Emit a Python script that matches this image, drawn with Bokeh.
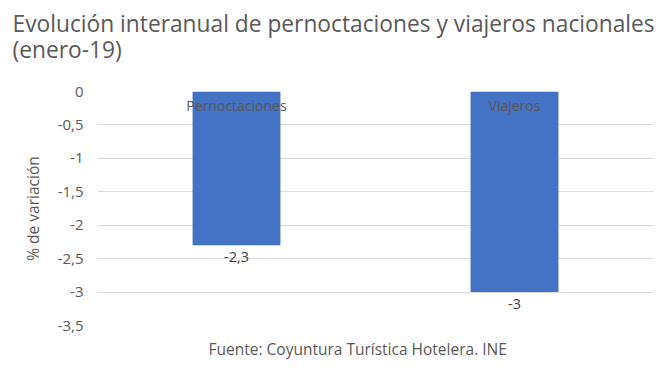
from bokeh.plotting import figure
from bokeh.models import FactorRange, Range1d, FixedTicker, ColumnDataSource, Title
from bokeh.core.properties import value
from bokeh.embed import file_html
from bokeh.resources import INLINE

categories = ["Pernoctaciones", "Viajeros"]
values = [-2.3, -3.0]
value_labels = ["-2,3", "-3"]
y_ticks = [0, -0.5, -1, -1.5, -2, -2.5, -3, -3.5]
y_tick_labels = ["0", "-0,5", "-1", "-1,5", "-2", "-2,5", "-3", "-3,5"]
title_lines = ["Evolución interanual de pernoctaciones y viajeros nacionales", "(enero-19)"]
source_text = "Fuente: Coyuntura Turística Hotelera. INE"

FONT = "Open Sans"
GREY = "#595959"

p = figure(width=657, height=371, output_backend="svg", toolbar_location=None,
           x_range=FactorRange(*categories, range_padding=0), y_range=Range1d(-3.5, 0),
           min_border_left=97, min_border_right=4, min_border_top=91, min_border_bottom=46)
p.outline_line_color = None
p.xaxis.visible = False
p.xgrid.visible = False
p.ygrid.grid_line_color = "#d9d9d9"

p.yaxis.ticker = FixedTicker(ticks=y_ticks)
p.yaxis.major_label_overrides = {t: l for t, l in zip(y_ticks, y_tick_labels)}
p.yaxis.axis_line_color = None
p.yaxis.major_tick_line_color = None
p.yaxis.minor_tick_line_color = None
p.yaxis.major_label_text_font = FONT
p.yaxis.major_label_text_font_size = "15px"
p.yaxis.major_label_text_color = GREY
p.yaxis.major_label_standoff = 8
p.yaxis.axis_label = "% de variación"
p.yaxis.axis_label_text_font = FONT
p.yaxis.axis_label_text_font_size = "15.5px"
p.yaxis.axis_label_text_font_style = "normal"
p.yaxis.axis_label_text_color = GREY
p.yaxis.axis_label_standoff = 11

src = ColumnDataSource(dict(cat=categories, val=values, lab=value_labels))
p.vbar(x="cat", top=0, bottom="val", width=0.316, source=src, fill_color="#4472C4", line_color=None)

p.text(x="cat", y=0, text="cat", source=src, text_align="center", text_baseline="top",
       y_offset=4, text_font=value(FONT), text_font_size="14px", text_color=GREY)
p.text(x="cat", y="val", text="lab", source=src, text_align="center", text_baseline="top",
       y_offset=7, text_font=value(FONT), text_font_size="14.5px", text_color="#404040")

# a trailing blank line keeps the two title lines away from the plot area
p.add_layout(Title(text="\n".join(title_lines + ["\u00a0"]), text_font=FONT, text_font_size="22.75px",
                   text_font_style="normal", text_color=GREY, text_line_height=0.839,
                   align="left", offset=-85, standoff=0), "above")
p.add_layout(Title(text=source_text, text_font=FONT,
                   text_font_size="15.5px", text_font_style="normal", text_color=GREY,
                   align="left", offset=111, standoff=20), "below")

open("out.html", "w").write(file_html(p, INLINE))
